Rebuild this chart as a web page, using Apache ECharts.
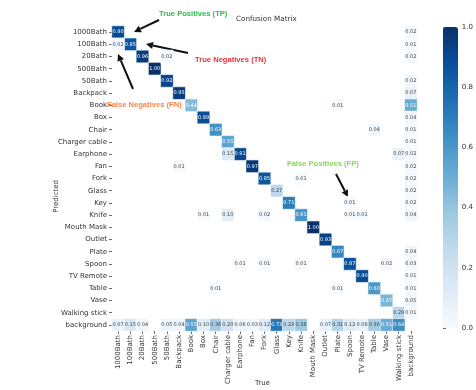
<!DOCTYPE html>
<html><head><meta charset="utf-8">
<script src="https://cdn.jsdelivr.net/npm/echarts@6/dist/echarts.min.js"></script>
<style>html,body{margin:0;padding:0;background:#fff}#c{width:476px;height:390px}</style>
</head><body><div id="c"></div>
<script>
var categories = ['1000Bath','100Bath','20Bath','500Bath','50Bath','Backpack','Book','Box','Chair','Charger cable','Earphone','Fan','Fork','Glass','Key','Knife','Mouth Mask','Outlet','Plate','Spoon','TV Remote','Table','Vase','Walking stick','background'];
// correct predictions (true class == predicted class)
var diagonal = [0.90,0.85,0.96,1.00,0.92,0.95,0.44,0.89,0.63,0.55,0.91,0.97,0.85,0.27,0.71,0.61,1.00,0.93,0.67,0.87,0.90,0.60,0.47,0.29];
// predicted class row, true = background
var backgroundCol = [0.02,0.01,0.02,0,0.02,0.07,0.51,0.04,0.01,0.01,0.02,0.02,0.02,0.02,0.02,0.04,0,0,0.04,0.03,0.01,0.01,0.05,0.01];
// true class column, predicted = background
var backgroundRow = [0.07,0.15,0.04,0,0.05,0.04,0.55,0.10,0.36,0.20,0.06,0.03,0.12,0.73,0.29,0.38,0,0.07,0.31,0.12,0.08,0.36,0.51,0.64];
// other confusions: [true, predicted, value]
var offDiagonal = [
  ['1000Bath','100Bath',0.02],
  ['50Bath','20Bath',0.02],
  ['Plate','Book',0.01],
  ['Table','Chair',0.04],
  ['Charger cable','Earphone',0.15],
  ['Walking stick','Earphone',0.07],
  ['Backpack','Fan',0.01],
  ['Knife','Fork',0.01],
  ['Spoon','Key',0.01],
  ['Box','Knife',0.01],
  ['Charger cable','Knife',0.10],
  ['Fork','Knife',0.02],
  ['Spoon','Knife',0.01],
  ['TV Remote','Knife',0.01],
  ['Earphone','Spoon',0.01],
  ['Fork','Spoon',0.01],
  ['Knife','Spoon',0.01],
  ['Vase','Spoon',0.02],
  ['Chair','Table',0.01],
  ['Plate','Table',0.01]
];
var colorTicks = [0,0.2,0.4,0.6,0.8,1.0];
var blues = ['#f7fbff','#deebf7','#c6dbef','#9ecae1','#6baed6','#4292c6','#2171b5','#08519c','#08306b'];

var data = [];
var bg = categories.length - 1;
diagonal.forEach(function(v,i){ if(v>0) data.push([i,i,v]); });
backgroundCol.forEach(function(v,i){ if(v>0) data.push([bg,i,v]); });
backgroundRow.forEach(function(v,i){ if(v>0) data.push([i,bg,v]); });
offDiagonal.forEach(function(d){ data.push([categories.indexOf(d[0]),categories.indexOf(d[1]),d[2]]); });
var styled = data.map(function(d){
  return {value:d,label:{color:d[2]>=0.4?'#fff':'#444'}};
});

var FONT = 'DejaVu Sans';
var AFONT = 'bold 7.6px "Liberation Sans", Arial, sans-serif';
function arrow(x1,y1,x2,y2){
  var a = Math.atan2(y2-y1,x2-x1), L=7, W=3.5;
  var bx = x2 - L*Math.cos(a), by = y2 - L*Math.sin(a);
  var px = -Math.sin(a)*W, py = Math.cos(a)*W;
  return [
    {type:'line',shape:{x1:x1,y1:y1,x2:bx,y2:by},style:{stroke:'#111',lineWidth:2}},
    {type:'polygon',shape:{points:[[x2,y2],[bx+px,by+py],[bx-px,by-py]]},style:{fill:'#111'}}
  ];
}
var graphics = [
  {type:'text',left:236,top:16,style:{text:'Confusion Matrix',font:'7.2px '+FONT,fill:'#333'}},
  {type:'text',left:159,top:10,style:{text:'True Positives (TP)',font:AFONT,fill:'#2dbb4e'}},
  {type:'text',left:195,top:56,style:{text:'True Negatives (TN)',font:AFONT,fill:'#e8333a'}},
  {type:'text',left:107,top:101,style:{text:'False Negatives (FN)',font:AFONT,fill:'#f5874a'}},
  {type:'text',left:287,top:160,style:{text:'False Positives (FP)',font:AFONT,fill:'#8ad65a'}},
  {type:'text',left:53,top:180,rotation:Math.PI/2,style:{text:'Predicted',font:'7px '+FONT,fill:'#333',align:'center',verticalAlign:'middle'}},
  {type:'text',left:255,top:380,style:{text:'True',font:'7px '+FONT,fill:'#333'}}
].concat(arrow(159,20,134,32), arrow(188,53,146,44), arrow(133,89,118,54), arrow(336,174,348,197));

var chart = echarts.init(document.getElementById('c'));
chart.setOption({
  backgroundColor:'#fff',
  animation:false,
  textStyle:{fontFamily:FONT},
  grid:[
    {left:112,top:26,width:305,height:305},
    {left:443,top:27,width:15,height:301}
  ],
  xAxis:[
    {type:'category',data:categories,gridIndex:0,position:'bottom',
     axisLine:{show:false},splitLine:{show:false},
     axisTick:{show:true,alignWithLabel:true,length:3,lineStyle:{color:'#444',width:0.8}},
     axisLabel:{rotate:90,fontSize:7,color:'#333',interval:0,margin:4}},
    {type:'value',gridIndex:1,show:false,min:0,max:1}
  ],
  yAxis:[
    {type:'category',data:categories,inverse:true,gridIndex:0,
     axisLine:{show:false},splitLine:{show:false},
     axisTick:{show:true,alignWithLabel:true,length:3,lineStyle:{color:'#444',width:0.8}},
     axisLabel:{fontSize:7,color:'#333',interval:0,margin:5}},
    {type:'value',gridIndex:1,position:'right',min:0,max:1,interval:0.2,
     axisLine:{show:false},splitLine:{show:false},
     axisTick:{show:true,length:3,lineStyle:{color:'#444',width:0.8}},
     axisLabel:{fontSize:7,color:'#333',margin:6,formatter:function(v){return v.toFixed(1);}}}
  ],
  visualMap:{type:'continuous',min:0,max:1,seriesIndex:0,calculable:false,
    orient:'vertical',left:443,top:27,itemWidth:15,itemHeight:301,padding:0,
    inRange:{color:blues},text:null},
  series:[{
    type:'heatmap',xAxisIndex:0,yAxisIndex:0,data:styled,
    itemStyle:{borderColor:'#fff',borderWidth:0.6},
    label:{show:true,fontSize:5,fontFamily:FONT,
      formatter:function(p){return p.value[2].toFixed(2);}}
  }],
  graphic:graphics
});
</script></body></html>
